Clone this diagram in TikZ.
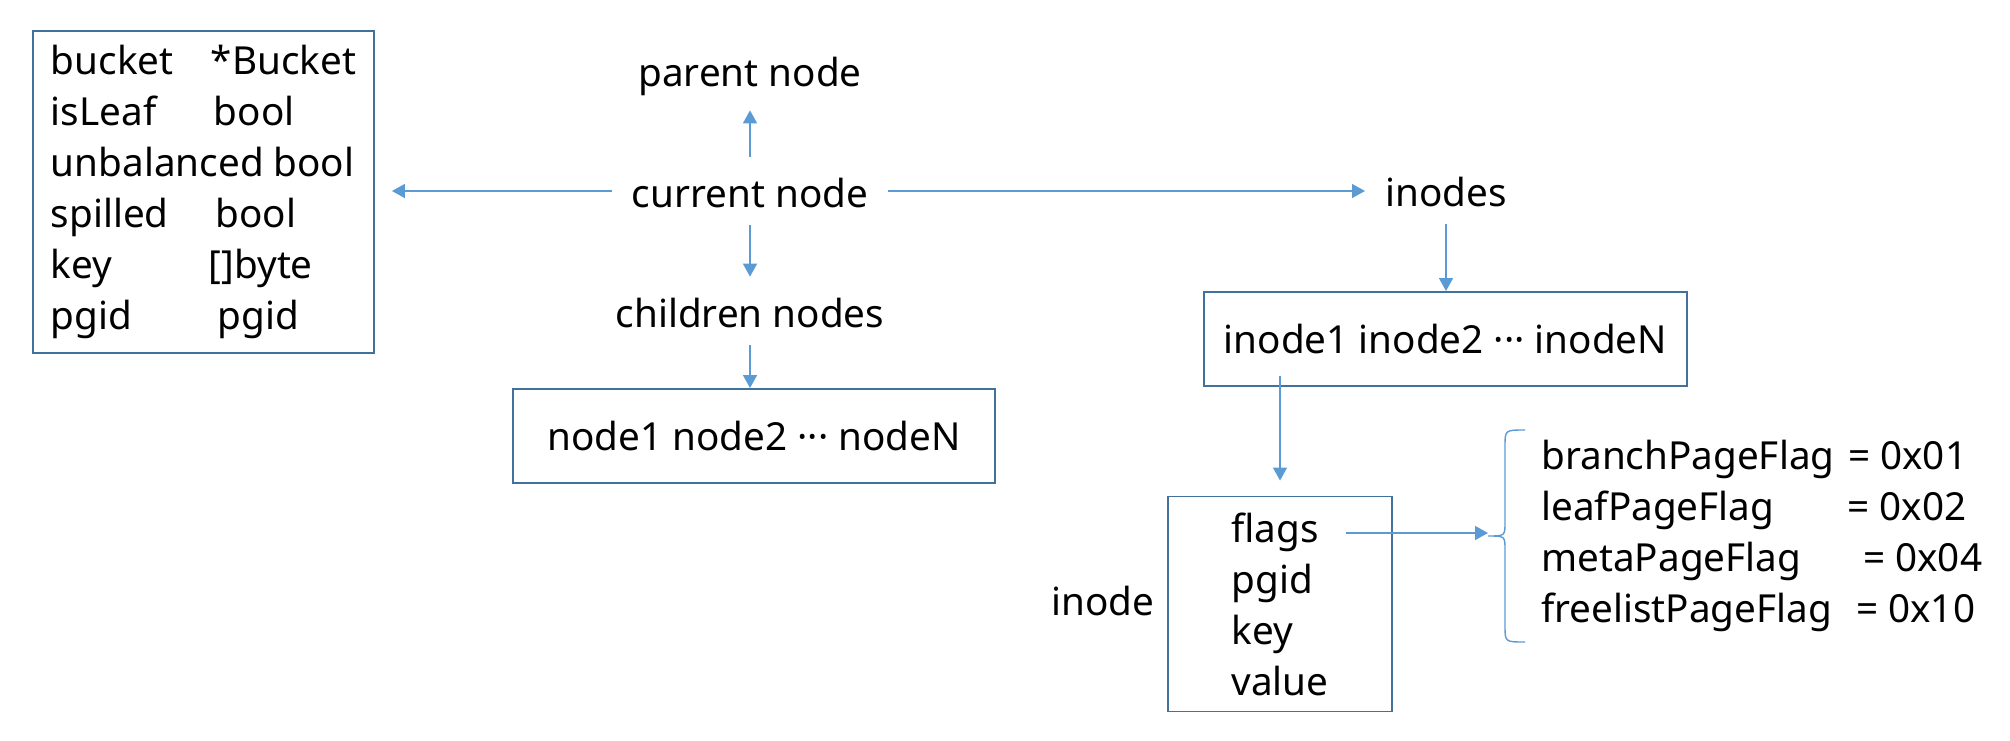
\documentclass[tikz,border=0pt]{standalone}
\usepackage{fontspec}
\setmainfont{Noto Sans}
\usetikzlibrary{arrows.meta}
\definecolor{boxblue}{HTML}{41719C}
\definecolor{arrblue}{HTML}{5B9BD5}
\begin{document}
\begin{tikzpicture}[x=0.02cm, y=-0.02cm,
  font=\fontsize{22pt}{29pt}\selectfont,
  lbl/.style={inner xsep=0.4cm, inner ysep=0.3cm,
              text height=0.7cm, text depth=0.06cm, anchor=base},
  box/.style={draw=boxblue, line width=1.1pt, align=left, inner sep=0pt},
  arr/.style={-{Triangle[length=0.26cm, width=0.28cm]}, draw=arrblue, line width=0.8pt},
  brc/.style={draw=arrblue, line width=0.8pt}
]
  \useasboundingbox (0,0) rectangle (2010,740);

  \node[box, minimum width=6.82cm, minimum height=6.44cm] (fields) at (203.5,192)
        {\makebox[3.2cm][l]{bucket}*Bucket\\
         \makebox[3.26cm][l]{isLeaf}bool\\
         unbalanced bool\\
         \makebox[3.3cm][l]{spilled}bool\\
         \makebox[3.16cm][l]{key}[]byte\\
         \makebox[3.34cm][l]{pgid}pgid};

  \node[lbl] (parent)   at (750,87)  {parent node};
  \node[lbl] (cur)      at (750,207) {current node};
  \node[lbl] (children) at (750,327) {children nodes};
  \node[box, minimum width=9.64cm, minimum height=1.88cm] (nodelist) at (754,436)
        {node1 node2 ··· nodeN};

  \node[lbl] (inodes) at (1446,206) {inodes};
  \node[box, minimum width=9.66cm, minimum height=1.88cm] (inodelist) at (1445.5,339)
        {inode1 inode2 ··· inodeN};
  \node[box, minimum width=4.48cm, minimum height=4.3cm] (inodebox) at (1280,604)
        {flags\\pgid\\key\\value};
  \node[lbl] (inodelbl) at (1103,615) {inode};

  \node[align=left, anchor=west, inner sep=0pt] (pageflags) at (1541,536)
        {\makebox[6.14cm][l]{branchPageFlag}= 0x01\\
         \makebox[6.12cm][l]{leafPageFlag}= 0x02\\
         \makebox[6.44cm][l]{metaPageFlag}= 0x04\\
         \makebox[6.3cm][l]{freelistPageFlag}= 0x10};

  \coordinate (flagsout) at (1346,533);
  \coordinate (bracetip) at (1488,536);

  \draw[arr, shorten >=0.34cm] (cur.west) -- (cur.west -| fields.east);
  \draw[arr, shorten >=0.1cm] (cur.north) -- (parent.south);
  \draw[arr] (cur.south) -- (children.north);
  \draw[arr] (children.south) -- (children.south |- nodelist.north);
  \draw[arr] (cur.east) -- (cur.east -| inodes.west);
  \draw[arr] (inodes.south) -- (inodes.south |- inodelist.north);
  \draw[arr, shorten <=-0.22cm, shorten >=0.3cm] (inodebox.north |- inodelist.south) -- (inodebox.north);
  \draw[arr] (flagsout) -- (flagsout -| bracetip);

  \draw[brc] (1525,430) .. controls (1505,430) .. (1505,446) -- (1505,522)
             .. controls (1505,536) .. (bracetip)
             .. controls (1505,536) .. (1505,550) -- (1505,626)
             .. controls (1505,642) .. (1525,642);
\end{tikzpicture}
\end{document}
